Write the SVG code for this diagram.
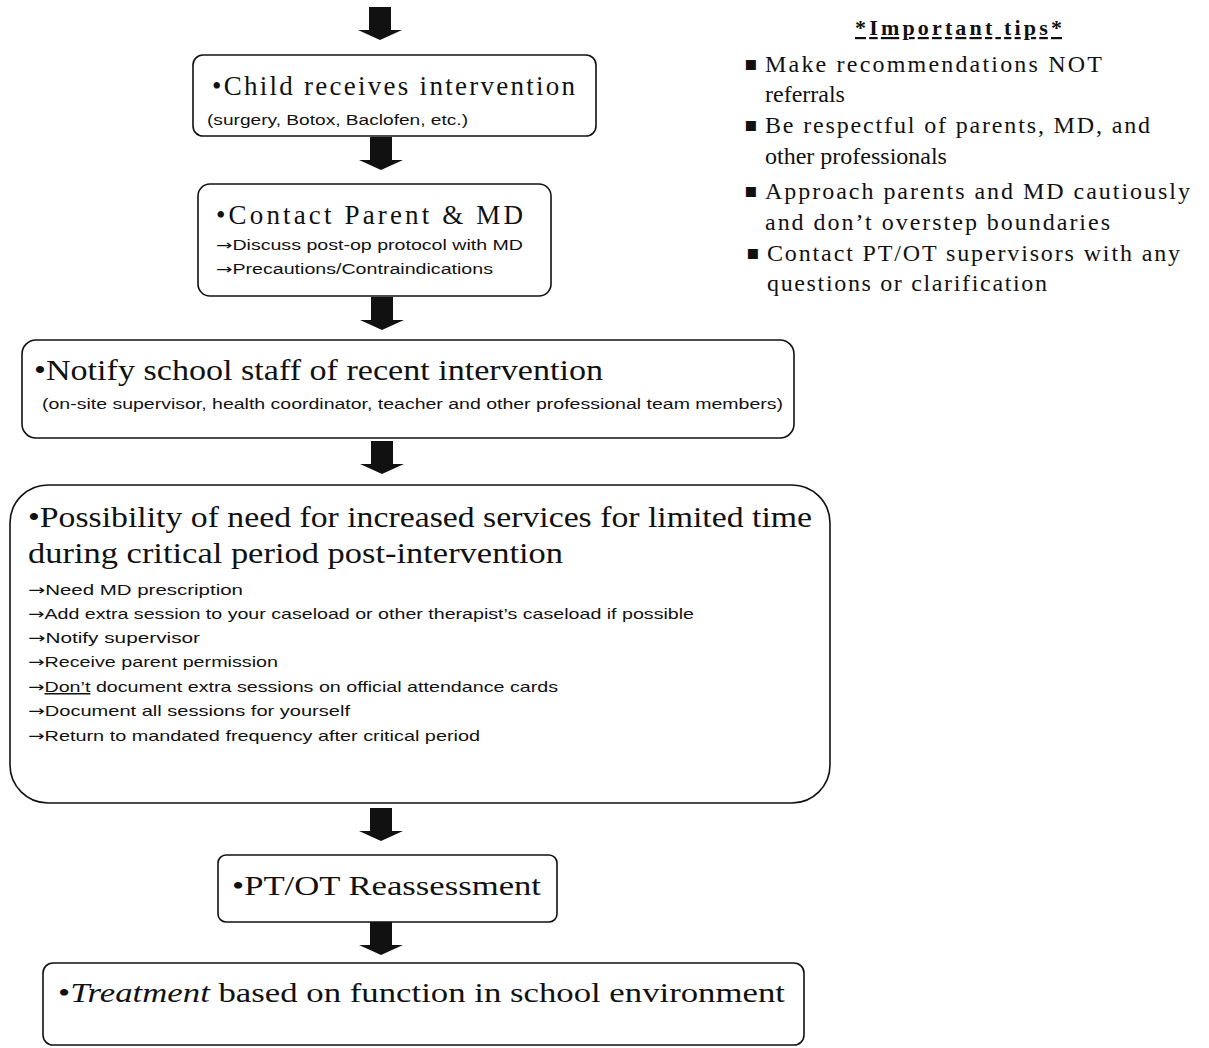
<svg xmlns="http://www.w3.org/2000/svg" width="1209" height="1048" viewBox="0 0 1209 1048">
<style>
.box{fill:#fff;stroke:#111;stroke-width:1.6}
.t{font-family:"Liberation Serif","Times New Roman",serif;fill:#111}
.s{font-family:"Liberation Sans",Arial,sans-serif;fill:#111}
.title{font-size:27px}
.sub{font-size:14px}
.li{font-size:15px}
.tip{font-size:24px}
.bul{font-family:"DejaVu Sans",sans-serif;font-size:20px}
.ar{font-family:"DejaVu Sans",sans-serif}
.arrow{fill:#111}
</style>
<defs>
<path id="arr" d="M-11,0 L11,0 L11,23 L22,23 L0,33 L-22,23 L-11,23 Z"/>
</defs>
<rect width="1209" height="1048" fill="#fff"/>
<g id="connectors">
<use href="#arr" class="arrow" x="380" y="7"/>
<use href="#arr" class="arrow" x="381" y="137"/>
<use href="#arr" class="arrow" x="382" y="297"/>
<use href="#arr" class="arrow" x="382" y="441"/>
<use href="#arr" class="arrow" x="381" y="808"/>
<use href="#arr" class="arrow" x="381" y="922"/>
</g>
<g id="n1">
<rect class="box" x="193" y="55" width="403" height="81" rx="10"/>
<text class="t title" x="212" y="95" textLength="363" lengthAdjust="spacing">•Child receives intervention</text>
<text class="s sub" x="207" y="125" textLength="261" lengthAdjust="spacingAndGlyphs">(surgery, Botox, Baclofen, etc.)</text>
</g>
<g id="n2">
<rect class="box" x="198" y="184" width="353" height="112" rx="12"/>
<text class="t title" x="216" y="224" textLength="307" lengthAdjust="spacing">•Contact Parent &amp; MD</text>
<text class="s sub" x="216" y="250" textLength="307" lengthAdjust="spacingAndGlyphs"><tspan class="ar">→</tspan>Discuss post-op protocol with MD</text>
<text class="s sub" x="216" y="274" textLength="277" lengthAdjust="spacingAndGlyphs"><tspan class="ar">→</tspan>Precautions/Contraindications</text>
</g>
<g id="n3">
<rect class="box" x="22" y="340" width="772" height="98" rx="14"/>
<text class="t title" x="34" y="380" textLength="569" lengthAdjust="spacingAndGlyphs" style="font-size:29px">•Notify school staff of recent intervention</text>
<text class="s sub" x="42" y="409" textLength="741" lengthAdjust="spacingAndGlyphs">(on-site supervisor, health coordinator, teacher and other professional team members)</text>
</g>
<g id="n4">
<rect class="box" x="10" y="485" width="820" height="318" rx="38"/>
<text class="t title" x="28" y="527" textLength="784" lengthAdjust="spacingAndGlyphs" style="font-size:29px">•Possibility of need for increased services for limited time</text>
<text class="t title" x="28" y="563" textLength="535" lengthAdjust="spacingAndGlyphs" style="font-size:29px">during critical period post-intervention</text>
<text class="s li" x="28" y="595" textLength="215" lengthAdjust="spacingAndGlyphs"><tspan class="ar">→</tspan>Need MD prescription</text>
<text class="s li" x="28" y="619" textLength="666" lengthAdjust="spacingAndGlyphs"><tspan class="ar">→</tspan>Add extra session to your caseload or other therapist’s caseload if possible</text>
<text class="s li" x="28" y="643" textLength="172" lengthAdjust="spacingAndGlyphs"><tspan class="ar">→</tspan>Notify supervisor</text>
<text class="s li" x="28" y="667" textLength="250" lengthAdjust="spacingAndGlyphs"><tspan class="ar">→</tspan>Receive parent permission</text>
<text class="s li" x="28" y="692" textLength="530" lengthAdjust="spacingAndGlyphs"><tspan class="ar">→</tspan><tspan text-decoration="underline">Don’t</tspan> document extra sessions on official attendance cards</text>
<text class="s li" x="28" y="716" textLength="322" lengthAdjust="spacingAndGlyphs"><tspan class="ar">→</tspan>Document all sessions for yourself</text>
<text class="s li" x="28" y="741" textLength="452" lengthAdjust="spacingAndGlyphs"><tspan class="ar">→</tspan>Return to mandated frequency after critical period</text>
</g>
<g id="n5">
<rect class="box" x="218" y="855" width="339" height="67" rx="8"/>
<text class="t title" x="232" y="895" textLength="309" lengthAdjust="spacingAndGlyphs">•PT/OT Reassessment</text>
</g>
<g id="n6">
<rect class="box" x="43" y="963" width="761" height="82" rx="10"/>
<text class="t title" x="58" y="1002" textLength="727" lengthAdjust="spacingAndGlyphs">•<tspan font-style="italic">Treatment</tspan> based on function in school environment</text>
</g>
<g id="tips">
<text class="t" x="855" y="35" textLength="207" lengthAdjust="spacing" style="font-size:22px;font-weight:bold" text-decoration="underline">*Important tips*</text>
<g class="t tip">
<text class="bul" x="744" y="70">▪</text>
<text x="765" y="72" textLength="337" lengthAdjust="spacing">Make recommendations NOT</text>
<text x="765" y="102">referrals</text>
<text class="bul" x="744" y="131">▪</text>
<text x="765" y="133" textLength="385" lengthAdjust="spacing">Be respectful of parents, MD, and</text>
<text x="765" y="164">other professionals</text>
<text class="bul" x="744" y="197">▪</text>
<text x="765" y="199" textLength="425" lengthAdjust="spacing">Approach parents and MD cautiously</text>
<text x="765" y="230" textLength="345" lengthAdjust="spacing">and don’t overstep boundaries</text>
<text class="bul" x="746" y="259">▪</text>
<text x="767" y="261" textLength="413" lengthAdjust="spacing">Contact PT/OT supervisors with any</text>
<text x="767" y="291" textLength="280" lengthAdjust="spacing">questions or clarification</text>
</g>
</g>
</svg>
